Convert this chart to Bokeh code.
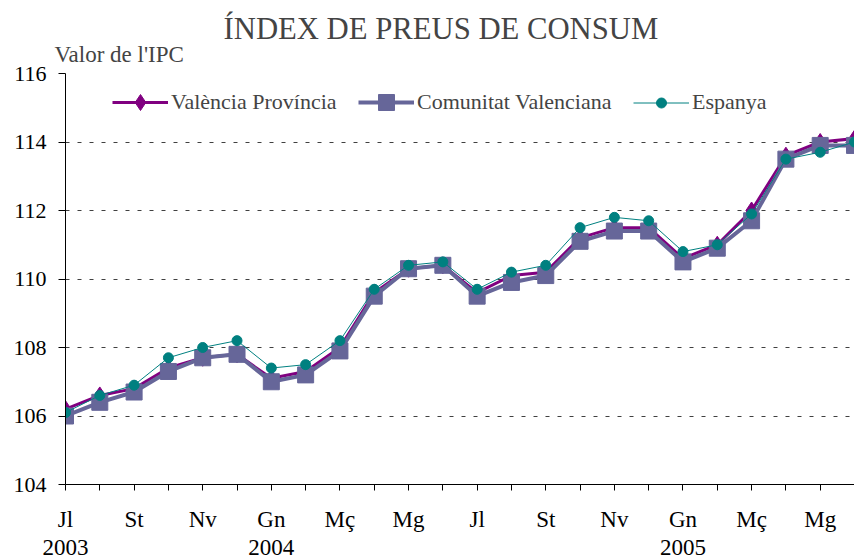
from bokeh.plotting import figure
from bokeh.models import Range1d, FixedTicker, LinearAxis, Title, Legend, LegendItem
from bokeh.embed import file_html
from bokeh.resources import INLINE

# ---- data ----
months = ["Jl", "Ag", "St", "Oc", "Nv", "Ds", "Gn", "Fb", "Mç", "Ab", "Mg", "Jn",
          "Jl", "Ag", "St", "Oc", "Nv", "Ds", "Gn", "Fb", "Mç", "Ab", "Mg", "Jn"]
years = {0: "2003", 6: "2004", 18: "2005"}
valencia_provincia = [106.2, 106.6, 106.8, 107.4, 107.7, 107.8, 107.1, 107.3, 108.0, 109.6, 110.3, 110.4,
                      109.6, 110.1, 110.2, 111.2, 111.5, 111.5, 110.6, 111.0, 112.0, 113.6, 114.0, 114.1]
comunitat_valenciana = [106.0, 106.4, 106.7, 107.3, 107.7, 107.8, 107.0, 107.2, 107.9, 109.5, 110.3, 110.4,
                        109.5, 109.9, 110.1, 111.1, 111.4, 111.4, 110.5, 110.9, 111.7, 113.5, 113.9, 113.9]
espanya = [106.1, 106.6, 106.9, 107.7, 108.0, 108.2, 107.4, 107.5, 108.2, 109.7, 110.4, 110.5,
           109.7, 110.2, 110.4, 111.5, 111.8, 111.7, 110.8, 111.0, 111.9, 113.5, 113.7, 114.0]
y_ticks = [104, 106, 108, 110, 112, 114, 116]
series_names = ["València Província", "Comunitat Valenciana", "Espanya"]

FONT = "Liberation Serif"
x = list(range(len(months)))

p = figure(width=854, height=558, output_backend="svg", toolbar_location=None,
           x_range=Range1d(0, 23), y_range=Range1d(104, 116),
           min_border_left=65, min_border_right=0, min_border_top=73, min_border_bottom=74)
p.outline_line_color = None
p.background_fill_color = "white"

# axes
xa = p.xaxis[0]
xa.ticker = FixedTicker(ticks=x)
xa.major_label_overrides = {i: (months[i] if i % 2 == 0 else "") for i in x}
xa.major_tick_out = 6
xa.major_tick_in = 0
xa.minor_tick_line_color = None
xa.axis_line_color = "black"
xa.major_tick_line_color = "black"
xa.major_label_standoff = 16
xa.major_label_text_font = FONT
xa.major_label_text_font_size = "23px"
xa.major_label_text_color = "black"

yr_axis = LinearAxis(ticker=FixedTicker(ticks=list(years.keys())),
                     major_label_overrides=years)
yr_axis.axis_line_color = None
yr_axis.major_tick_line_color = None
yr_axis.minor_tick_line_color = None
yr_axis.major_label_standoff = -1
yr_axis.major_label_text_font = FONT
yr_axis.major_label_text_font_size = "23px"
yr_axis.major_label_text_color = "black"
p.add_layout(yr_axis, "below")

ya = p.yaxis[0]
ya.ticker = FixedTicker(ticks=y_ticks)
ya.major_tick_out = 7
ya.major_tick_in = 0
ya.minor_tick_line_color = None
ya.axis_line_color = "black"
ya.major_tick_line_color = "black"
ya.major_label_standoff = 12
ya.major_label_text_font = FONT
ya.major_label_text_font_size = "22px"
ya.major_label_text_color = "black"

p.xgrid.grid_line_color = None
p.ygrid.ticker = FixedTicker(ticks=y_ticks[1:])
p.ygrid.grid_line_color = "#404040"
p.ygrid.grid_line_dash = "4 8"
p.ygrid.grid_line_width = 1

# titles
p.add_layout(Title(text="Valor de l'IPC", align="left", offset=-11, text_font=FONT,
                   text_font_size="23px", text_font_style="normal", standoff=13), "above")
p.add_layout(Title(text="ÍNDEX DE PREUS DE CONSUM", align="left", offset=158, text_font=FONT,
                   text_font_size="30.7px", text_font_style="normal", standoff=-24), "above")

# series
PURPLE = "#800080"
SLATE = "#666699"
TEAL = "#008080"

l1 = p.line(x, valencia_provincia, line_color=PURPLE, line_width=3)
m1 = p.scatter(x, valencia_provincia, marker="diamond", size=17,
               fill_color=PURPLE, line_color=PURPLE)
l2 = p.line(x, comunitat_valenciana, line_color=SLATE, line_width=4)
m2 = p.scatter(x, comunitat_valenciana, marker="square", size=16,
               fill_color=SLATE, line_color=SLATE)
l3 = p.line(x, espanya, line_color=TEAL, line_width=1)
m3 = p.scatter(x, espanya, marker="circle", size=10, fill_color=TEAL, line_color=TEAL)

legend_specs = [
    (series_names[0], [l1, m1], 40, (47, 362)),
    (series_names[1], [l2, m2], 40, (293, 362)),
    (series_names[2], [l3, m3], 25, (568, 369)),
]
for name, rends, gh, loc in legend_specs:
    lg = Legend(items=[LegendItem(label=name, renderers=rends)],
                orientation="horizontal", location=loc)
    lg.border_line_color = None
    lg.background_fill_alpha = 0
    lg.label_text_font = FONT
    lg.label_text_font_size = "22px"
    lg.glyph_width = 56
    lg.glyph_height = gh
    lg.label_standoff = 3
    lg.padding = 0
    lg.margin = 0
    p.add_layout(lg, "center")

open("out.html", "w").write(file_html(p, INLINE))
